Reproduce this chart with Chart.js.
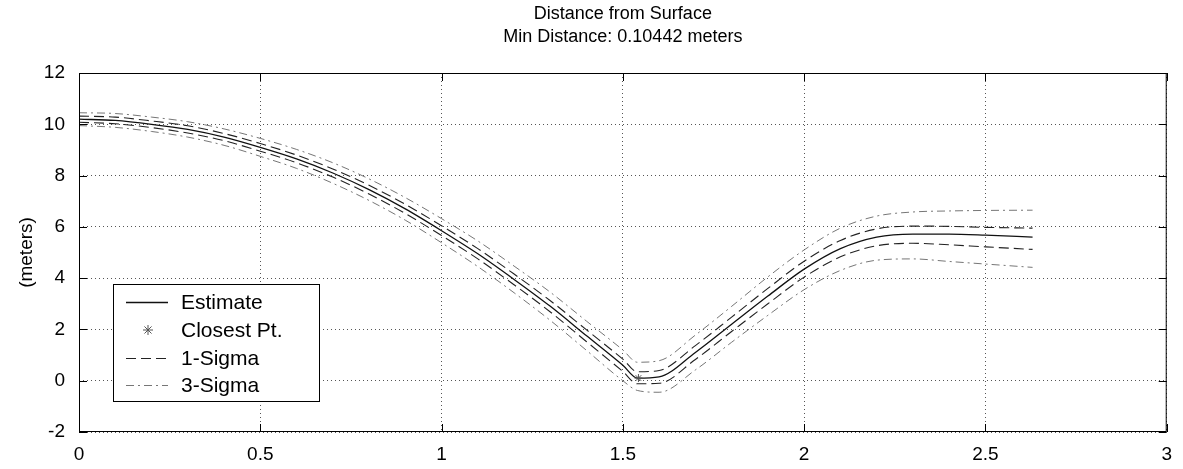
<!DOCTYPE html>
<html>
<head>
<meta charset="utf-8">
<title>Distance from Surface</title>
<script src="https://cdn.jsdelivr.net/npm/chart.js@4.4.0/dist/chart.umd.min.js"></script>
<style>
  body { margin: 0; background: #fff; }
  #wrap { width: 1183px; height: 469px; }
</style>
</head>
<body>
<div id="wrap"><canvas id="distChart"></canvas></div>
<script>
// data
const titleLines = ["Distance from Surface", "Min Distance: 0.10442 meters"];
const yLabel = "(meters)";
const seriesNames = ["Estimate", "Closest Pt.", "1-Sigma", "3-Sigma"];

const times = [0, 0.1, 0.2, 0.3, 0.4, 0.5, 0.6, 0.7, 0.8, 0.9, 1.0, 1.1, 1.2, 1.3, 1.4,
  1.5, 1.54, 1.6, 1.7, 1.8, 1.9, 2.0, 2.1, 2.2, 2.3, 2.4, 2.5, 2.63];
const estimate = [10.2, 10.15, 10.0, 9.8, 9.5, 9.1, 8.65, 8.1, 7.45, 6.7, 5.85, 4.95, 3.95, 2.9, 1.75,
  0.6, 0.1, 0.15, 1.1, 2.2, 3.3, 4.35, 5.15, 5.6, 5.72, 5.72, 5.68, 5.6];
const sigma1Upper = [10.32, 10.28, 10.13, 9.94, 9.64, 9.25, 8.8, 8.26, 7.62, 6.88, 6.04, 5.15, 4.16, 3.12, 1.98,
  0.84, 0.35, 0.4, 1.37, 2.48, 3.6, 4.66, 5.47, 5.92, 6.03, 6.02, 5.98, 5.95];
const sigma1Lower = [10.08, 10.02, 9.87, 9.66, 9.36, 8.95, 8.5, 7.94, 7.28, 6.52, 5.66, 4.75, 3.74, 2.68, 1.52,
  0.36, -0.12, -0.1, 0.83, 1.92, 3.0, 4.04, 4.83, 5.26, 5.36, 5.3, 5.22, 5.12];
const sigma3Upper = [10.45, 10.42, 10.28, 10.1, 9.82, 9.45, 9.02, 8.5, 7.87, 7.14, 6.32, 5.45, 4.47, 3.45, 2.32,
  1.2, 0.72, 0.78, 1.78, 2.9, 4.05, 5.1, 5.95, 6.42, 6.58, 6.62, 6.64, 6.65];
const sigma3Lower = [9.95, 9.88, 9.72, 9.5, 9.18, 8.75, 8.28, 7.7, 7.03, 6.26, 5.38, 4.45, 3.43, 2.35, 1.18,
  0.0, -0.38, -0.45, 0.42, 1.5, 2.55, 3.55, 4.3, 4.7, 4.75, 4.65, 4.55, 4.42];
const closestX = [1.543];
const closestY = [0.104];

const xMin = 0, xMax = 3, xStep = 0.5;
const yMin = -2, yMax = 12, yStep = 2;

const FONT = "'Liberation Sans', Arial, Helvetica, sans-serif";

const toPts = (ys) => times.map((t, i) => ({ x: t, y: ys[i] }));

const estStyle = { borderColor: "#111", borderWidth: 1.3, borderDash: [] };
const sig1Style = { borderColor: "#222", borderWidth: 1.1, borderDash: [10, 5] };
const sig3Style = { borderColor: "#666", borderWidth: 0.9, borderDash: [8, 4, 2, 4] };

function lineSet(label, ys, style) {
  return {
    label: label,
    data: toPts(ys),
    borderColor: style.borderColor,
    borderWidth: style.borderWidth,
    borderDash: style.borderDash,
    pointRadius: 0,
    fill: false,
    cubicInterpolationMode: "monotone"
  };
}

function drawStar(ctx, x, y, r) {
  ctx.beginPath();
  for (let k = 0; k < 4; k++) {
    const a = k * Math.PI / 4;
    ctx.moveTo(x - r * Math.cos(a), y - r * Math.sin(a));
    ctx.lineTo(x + r * Math.cos(a), y + r * Math.sin(a));
  }
  ctx.stroke();
}

// frame, inward ticks, title and the boxed legend, matlab style
const matlabDecor = {
  id: "matlabDecor",
  afterDraw(chart) {
    const ctx = chart.ctx;
    const a = chart.chartArea;
    const xs = chart.scales.x, ys = chart.scales.y;
    ctx.save();

    ctx.strokeStyle = "#000";
    ctx.lineWidth = 1;
    ctx.setLineDash([]);
    ctx.strokeRect(a.left + 0.5, a.top + 0.5, a.right - a.left - 1, a.bottom - a.top - 1);

    const tl = 8;
    ctx.beginPath();
    xs.ticks.forEach((t) => {
      const px = Math.round(xs.getPixelForValue(t.value)) + 0.5;
      ctx.moveTo(px, a.bottom); ctx.lineTo(px, a.bottom - tl);
      ctx.moveTo(px, a.top); ctx.lineTo(px, a.top + tl);
    });
    ys.ticks.forEach((t) => {
      const py = Math.round(ys.getPixelForValue(t.value)) + 0.5;
      ctx.moveTo(a.left, py); ctx.lineTo(a.left + tl, py);
      ctx.moveTo(a.right, py); ctx.lineTo(a.right - tl, py);
    });
    ctx.stroke();

    // title over the plot area
    ctx.fillStyle = "#000";
    ctx.font = "18px " + FONT;
    ctx.textAlign = "center";
    ctx.textBaseline = "middle";
    const cx = (a.left + a.right) / 2;
    titleLines.forEach((line, i) => ctx.fillText(line, cx, 14 + i * 23));

    // legend box
    const bx = 113, by = 284, bw = 206, bh = 117;
    ctx.fillStyle = "#fff";
    ctx.fillRect(bx, by, bw, bh);
    ctx.strokeStyle = "#000";
    ctx.lineWidth = 1;
    ctx.strokeRect(bx + 0.5, by + 0.5, bw, bh);

    const rows = [302, 330, 358, 385];
    const styles = [estStyle, null, sig1Style, sig3Style];
    ctx.font = "21px " + FONT;
    ctx.textAlign = "left";
    rows.forEach((ry, i) => {
      const st = styles[i];
      if (st) {
        ctx.strokeStyle = st.borderColor;
        ctx.lineWidth = st.borderWidth;
        ctx.setLineDash(st.borderDash);
        ctx.beginPath();
        ctx.moveTo(126, ry + 0.5);
        ctx.lineTo(168, ry + 0.5);
        ctx.stroke();
      } else {
        ctx.strokeStyle = "#555";
        ctx.lineWidth = 1;
        ctx.setLineDash([]);
        drawStar(ctx, 148, ry, 5);
      }
      ctx.setLineDash([]);
      ctx.fillStyle = "#000";
      ctx.fillText(seriesNames[i], 181, ry + 1);
    });
    ctx.restore();
  }
};

// closest point marker drawn through the scales
const closestMarker = {
  id: "closestMarker",
  afterDatasetsDraw(chart) {
    const ctx = chart.ctx;
    ctx.save();
    ctx.strokeStyle = "#555";
    ctx.lineWidth = 1;
    closestX.forEach((cxv, i) => {
      const px = chart.scales.x.getPixelForValue(cxv);
      const py = chart.scales.y.getPixelForValue(closestY[i]);
      drawStar(ctx, px, py, 4);
    });
    ctx.restore();
  }
};

const ctx = document.getElementById("distChart").getContext("2d");
new Chart(ctx, {
  type: "line",
  data: {
    datasets: [
      lineSet(seriesNames[0], estimate, estStyle),
      lineSet(seriesNames[2], sigma1Upper, sig1Style),
      lineSet(seriesNames[2], sigma1Lower, sig1Style),
      lineSet(seriesNames[3], sigma3Upper, sig3Style),
      lineSet(seriesNames[3], sigma3Lower, sig3Style)
    ]
  },
  options: {
    responsive: true,
    maintainAspectRatio: false,
    animation: false,
    layout: { padding: { top: 73, right: 13, bottom: 0, left: 0 } },
    plugins: {
      legend: { display: false },
      title: { display: false },
      tooltip: { enabled: false }
    },
    scales: {
      x: {
        type: "linear",
        min: xMin,
        max: xMax,
        ticks: {
          stepSize: xStep,
          color: "#000",
          padding: 11,
          maxRotation: 0,
          font: { family: FONT, size: 19 },
          callback: (v) => String(v)
        },
        grid: { color: "#555", lineWidth: 1, drawTicks: false },
        border: { display: false, dash: [1, 3] },
        afterFit: (s) => { s.height = 37; }
      },
      y: {
        min: yMin,
        max: yMax,
        ticks: {
          stepSize: yStep,
          color: "#000",
          padding: 14,
          font: { family: FONT, size: 19 },
          callback: (v) => String(v)
        },
        grid: { color: "#555", lineWidth: 1, drawTicks: false },
        border: { display: false, dash: [1, 3] },
        title: {
          display: true,
          text: yLabel,
          color: "#000",
          padding: { top: 15, bottom: 0 },
          font: { family: FONT, size: 19 }
        },
        afterFit: (s) => { s.width = 79; }
      }
    }
  },
  plugins: [closestMarker, matlabDecor]
});
</script>
</body>
</html>
